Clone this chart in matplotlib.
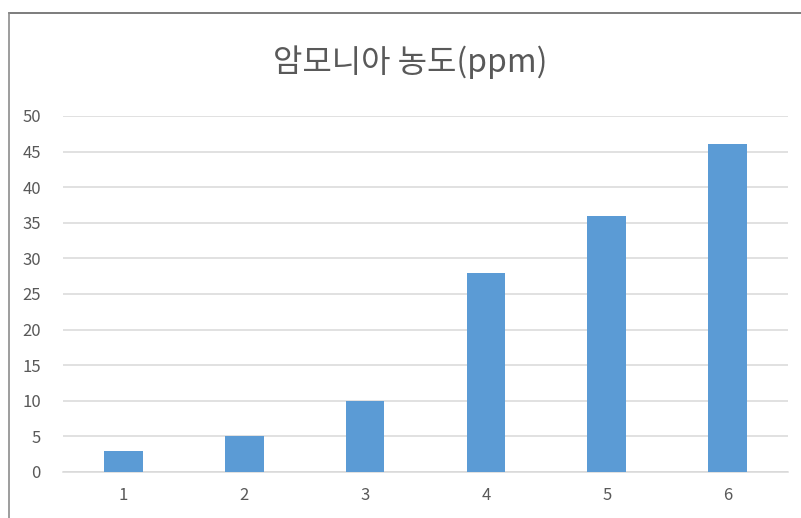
import matplotlib
matplotlib.use("Agg")
import matplotlib.pyplot as plt
from matplotlib.lines import Line2D

plt.rcParams['font.family'] = ['Noto Sans CJK KR', 'DejaVu Sans']

title = "암모니아 농도(ppm)"
categories = ["1", "2", "3", "4", "5", "6"]
values = [3, 5, 10, 28, 36, 46]
y_ticks = [0, 5, 10, 15, 20, 25, 30, 35, 40, 45, 50]

fig = plt.figure(figsize=(8.01, 5.18), dpi=100)
ax = fig.add_axes([63 / 801, 1 - 472 / 518, (788 - 63) / 801, (472 - 116) / 518])

x = list(range(1, len(categories) + 1))
ax.bar(x, values, width=0.32, color="#5B9BD5", zorder=3)

ax.set_xlim(0.5, len(categories) + 0.5)
ax.set_ylim(0, 50)
ax.set_yticks(y_ticks)
ax.set_xticks(x)
ax.set_xticklabels(categories)

ax.grid(axis="y", color="#D9D9D9", linewidth=1.1, zorder=0)
ax.set_axisbelow(True)
for side in ("top", "right", "left"):
    ax.spines[side].set_visible(False)
ax.spines["bottom"].set_color("#D9D9D9")
ax.spines["bottom"].set_linewidth(1.1)

ax.tick_params(axis="both", length=0, labelsize=12, labelcolor="#595959")
ax.tick_params(axis="y", pad=16)
ax.tick_params(axis="x", pad=11)

fig.text(410 / 801, 1 - 62 / 518, title, ha="center", va="center",
         fontsize=23, color="#595959", fontweight="light")

# Chart-area border on the top and left edges
fig.add_artist(Line2D([9 / 801, 1], [1 - 12.5 / 518, 1 - 12.5 / 518],
                      transform=fig.transFigure, color="#666666", linewidth=1.2))
fig.add_artist(Line2D([9 / 801, 9 / 801], [0, 1 - 12.5 / 518],
                      transform=fig.transFigure, color="#8C8C8C", linewidth=1.2))

fig.savefig("out.png", dpi=100)
